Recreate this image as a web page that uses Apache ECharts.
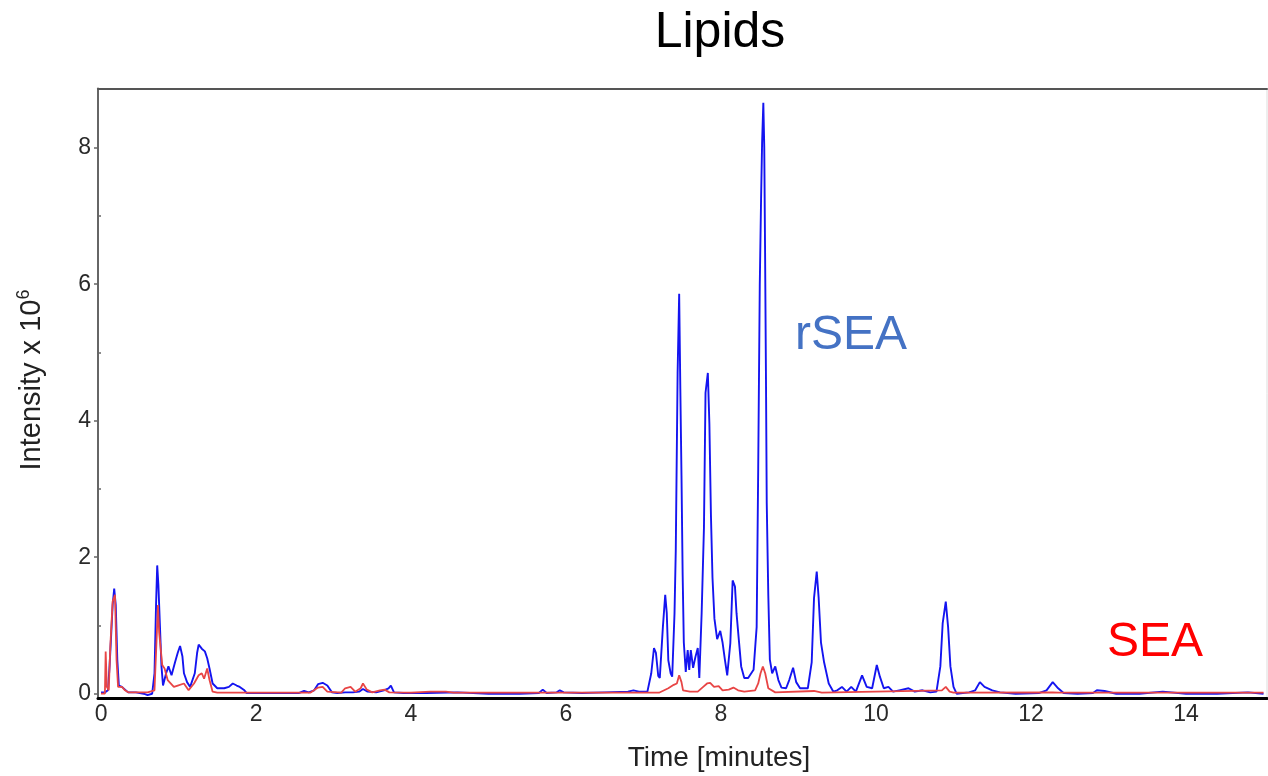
<!DOCTYPE html>
<html>
<head>
<meta charset="utf-8">
<script src="https://cdn.jsdelivr.net/npm/echarts@6/dist/echarts.min.js"></script>
<style>
html,body{margin:0;padding:0;background:#fff;}
#chart{width:1268px;height:776px;}
</style>
</head>
<body>
<div id="chart"></div>
<script>
// ---- Data (time in minutes, intensity x 10^6) ----
const title = 'Lipids';
const xAxisName = 'Time [minutes]';
const seriesNames = ['rSEA', 'SEA'];
const xTickLabels = [0, 2, 4, 6, 8, 10, 12, 14];
const yTickLabels = [0, 2, 4, 6, 8];
const yMinorTicks = [1, 3, 5, 7];

const rseaTime = [0,0.05,0.09,0.11,0.13,0.15,0.17,0.19,0.21,0.23,0.27,0.31,0.35,0.45,0.55,0.6,0.66,0.69,0.71,0.725,0.74,0.76,0.78,0.80,0.84,0.87,0.91,0.955,0.99,1.02,1.05,1.07,1.11,1.15,1.21,1.24,1.26,1.30,1.34,1.37,1.40,1.44,1.50,1.59,1.65,1.70,1.75,1.79,1.85,1.88,2.2,2.55,2.62,2.68,2.75,2.8,2.86,2.92,2.98,3.05,3.15,3.25,3.33,3.38,3.44,3.55,3.65,3.71,3.74,3.78,3.9,4.2,4.6,5.0,5.4,5.65,5.70,5.75,5.88,5.92,5.97,6.2,6.5,6.8,6.87,6.94,7.05,7.10,7.135,7.16,7.19,7.21,7.25,7.28,7.30,7.32,7.35,7.37,7.40,7.416,7.44,7.46,7.475,7.49,7.505,7.52,7.545,7.57,7.59,7.61,7.64,7.67,7.70,7.72,7.75,7.78,7.80,7.83,7.85,7.87,7.89,7.915,7.95,7.99,8.02,8.05,8.08,8.12,8.15,8.18,8.20,8.23,8.26,8.30,8.35,8.42,8.46,8.48,8.50,8.517,8.53,8.546,8.558,8.568,8.58,8.59,8.61,8.63,8.66,8.70,8.74,8.78,8.84,8.88,8.93,8.97,9.02,9.12,9.17,9.20,9.235,9.26,9.29,9.33,9.39,9.45,9.50,9.56,9.62,9.68,9.74,9.82,9.88,9.95,10.01,10.05,10.10,10.16,10.22,10.30,10.42,10.5,10.6,10.70,10.78,10.83,10.86,10.90,10.93,10.96,11.0,11.04,11.2,11.28,11.34,11.40,11.5,11.6,11.8,12.1,12.2,12.28,12.35,12.42,12.6,12.8,12.85,12.95,13.1,13.4,13.7,14.0,14.4,14.8,15.0];
const rseaIntensity = [0.02,0.02,0.05,0.4,0.84,1.3,1.54,1.3,0.5,0.12,0.1,0.06,0.02,0.02,0.0,-0.02,0.0,0.3,1.3,1.88,1.6,1.0,0.4,0.12,0.3,0.4,0.27,0.46,0.6,0.7,0.55,0.3,0.17,0.1,0.3,0.6,0.72,0.66,0.62,0.52,0.37,0.15,0.08,0.08,0.1,0.15,0.12,0.1,0.05,0.01,0.01,0.01,0.04,0.02,0.05,0.14,0.16,0.12,0.02,0.01,0.02,0.02,0.03,0.07,0.03,0.02,0.05,0.08,0.12,0.02,0.01,0.01,0.02,0.0,0.0,0.01,0.06,0.01,0.02,0.05,0.02,0.01,0.02,0.03,0.05,0.03,0.03,0.3,0.67,0.6,0.26,0.23,0.98,1.45,1.18,0.49,0.3,0.25,1.18,2.09,4.7,5.86,4.47,3.19,1.74,0.75,0.32,0.64,0.35,0.64,0.38,0.54,0.67,0.23,1.18,2.44,4.41,4.70,3.95,2.61,1.7,1.1,0.8,0.92,0.75,0.5,0.27,0.74,1.66,1.57,1.18,0.79,0.4,0.23,0.23,0.35,0.98,3.31,5.98,7.26,8.07,8.66,8.01,6.56,4.64,2.79,1.45,0.5,0.3,0.4,0.2,0.09,0.08,0.2,0.38,0.17,0.08,0.08,0.46,1.4,1.79,1.4,0.75,0.46,0.15,0.03,0.05,0.1,0.03,0.1,0.03,0.27,0.1,0.08,0.42,0.25,0.08,0.1,0.03,0.05,0.08,0.03,0.05,0.02,0.03,0.4,1.03,1.35,0.98,0.4,0.1,0.0,0.02,0.05,0.17,0.1,0.05,0.02,0.0,0.01,0.05,0.17,0.08,0.01,0.0,0.01,0.05,0.04,0.0,0.0,0.03,0.0,0.0,0.02,0.0];

const seaTime = [0,0.05,0.06,0.075,0.10,0.12,0.15,0.18,0.20,0.22,0.27,0.31,0.35,0.6,0.69,0.71,0.735,0.75,0.79,0.82,0.86,0.94,0.99,1.07,1.13,1.2,1.26,1.3,1.33,1.37,1.40,1.44,1.5,2.7,2.8,2.86,2.92,3.1,3.15,3.22,3.28,3.35,3.38,3.43,3.5,3.6,3.66,3.72,4.0,4.25,4.45,4.55,7.2,7.32,7.39,7.43,7.46,7.49,7.51,7.6,7.7,7.77,7.82,7.86,7.91,7.97,8.02,8.1,8.16,8.22,8.3,8.44,8.48,8.51,8.54,8.57,8.61,8.7,9.2,9.3,10.85,10.9,10.95,11.0,12.28,12.35,15.0];
const seaIntensity = [0.0,0.0,0.62,0.1,0.05,0.7,1.35,1.45,0.5,0.1,0.1,0.05,0.02,0.02,0.05,0.6,1.3,0.9,0.42,0.37,0.2,0.1,0.12,0.15,0.05,0.15,0.27,0.3,0.22,0.37,0.2,0.03,0.015,0.015,0.09,0.1,0.03,0.015,0.08,0.1,0.03,0.08,0.15,0.06,0.02,0.05,0.06,0.02,0.015,0.03,0.03,0.015,0.015,0.08,0.13,0.15,0.27,0.17,0.05,0.03,0.03,0.1,0.15,0.16,0.1,0.11,0.05,0.06,0.09,0.05,0.03,0.05,0.15,0.3,0.4,0.3,0.08,0.02,0.04,0.015,0.05,0.1,0.03,0.015,0.02,0.015,0.015];

const zip = (xs, ys) => xs.map((x, i) => [x, ys[i]]);

const chart = echarts.init(document.getElementById('chart'), null, {renderer: 'canvas'});
const FONT = 'Liberation Sans, Arial, sans-serif';
const yMin = -0.07, yMax = 8.868, xMin = -0.039, xMax = 15.045;

chart.setOption({
  animation: false,
  backgroundColor: '#ffffff',
  grid: {left: 98, right: 1, top: 88.5, bottom: 77.5, show: true, borderColor: '#dddddd', borderWidth: 1},
  xAxis: [{
    type: 'value', min: xMin, max: xMax, position: 'bottom',
    axisLine: {show: true, onZero: false, lineStyle: {color: '#000', width: 3}},
    axisTick: {show: false},
    splitLine: {show: false},
    axisLabel: {customValues: xTickLabels, fontSize: 23, color: '#2a2a2a', fontFamily: FONT, margin: 5}
  }, {
    type: 'value', min: xMin, max: xMax, position: 'top',
    axisLine: {show: true, onZero: false, lineStyle: {color: '#555', width: 2}},
    axisTick: {show: false}, axisLabel: {show: false}, splitLine: {show: false}
  }],
  yAxis: [{
    type: 'value', min: yMin, max: yMax, position: 'left',
    axisLine: {show: true, onZero: false, lineStyle: {color: '#666', width: 2}},
    axisTick: {show: true, customValues: yTickLabels, length: 4, lineStyle: {color: '#666', width: 1.5}},
    splitLine: {show: false},
    axisLabel: {customValues: yTickLabels, fontSize: 23, color: '#2a2a2a', fontFamily: FONT, margin: 7}
  }, {
    type: 'value', min: yMin, max: yMax, position: 'left',
    axisLine: {show: false},
    axisTick: {show: true, customValues: yMinorTicks, length: 2, lineStyle: {color: '#666', width: 1.5}},
    axisLabel: {show: false}, splitLine: {show: false}
  }],
  series: [{
    name: seriesNames[0], type: 'line', xAxisIndex: 0, yAxisIndex: 0,
    data: zip(rseaTime, rseaIntensity), showSymbol: false, symbol: 'none',
    lineStyle: {color: '#1414f0', width: 1.9}, z: 2
  }, {
    name: seriesNames[1], type: 'line', xAxisIndex: 0, yAxisIndex: 0,
    data: zip(seaTime, seaIntensity), showSymbol: false, symbol: 'none',
    lineStyle: {color: '#e84545', width: 1.8}, z: 3
  }],
  graphic: [
    {type: 'text', x: 720, y: 33, style: {text: title, fill: '#000', font: '50px ' + FONT, textAlign: 'center', textVerticalAlign: 'middle'}},
    {type: 'text', x: 719, y: 758, style: {text: xAxisName, fill: '#222', font: '28px ' + FONT, textAlign: 'center', textVerticalAlign: 'middle'}},
    {type: 'text', x: 32, y: 380, rotation: Math.PI / 2, style: {
      text: '{a|Intensity x 10}{b|6}', textAlign: 'center', textVerticalAlign: 'middle',
      rich: {a: {fontSize: 29, fontFamily: FONT, fill: '#222'}, b: {fontSize: 18, fontFamily: FONT, fill: '#222', padding: [0, 0, 16, 0]}}
    }},
    {type: 'text', x: 795, y: 336, style: {text: seriesNames[0], fill: '#4472c4', font: '48px ' + FONT, textAlign: 'left', textVerticalAlign: 'middle'}},
    {type: 'text', x: 1107, y: 643, style: {text: seriesNames[1], fill: '#ff0000', font: '48px ' + FONT, textAlign: 'left', textVerticalAlign: 'middle'}}
  ]
});
</script>
</body>
</html>
